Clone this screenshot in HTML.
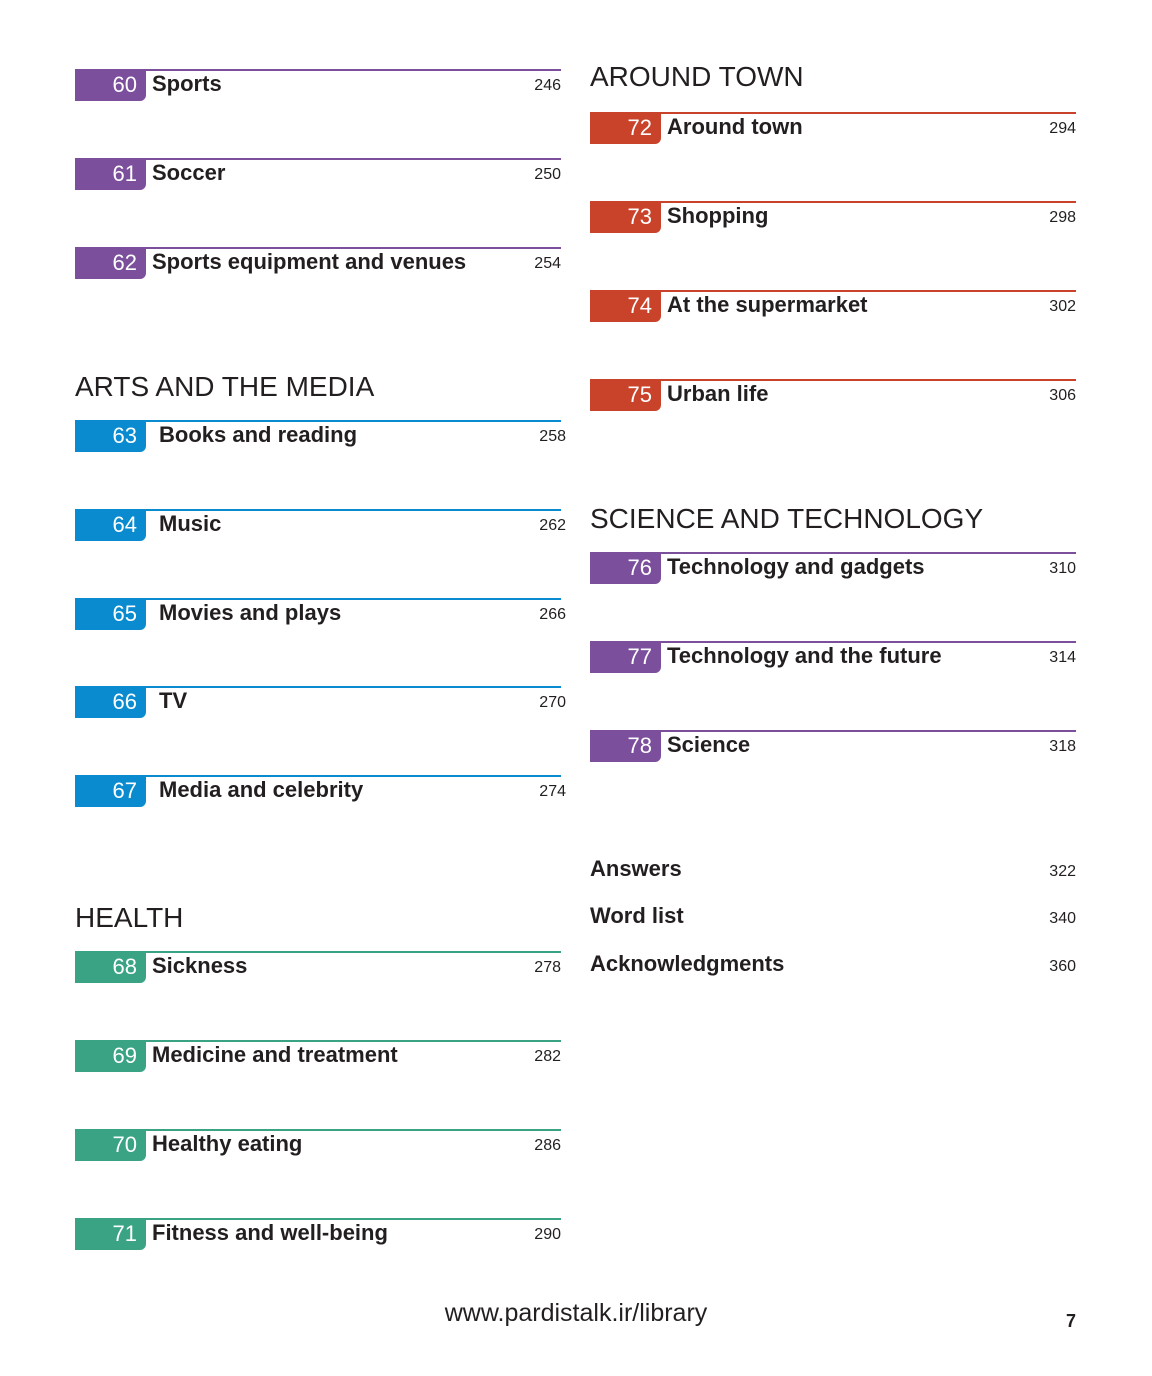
<!DOCTYPE html>
<html><head><meta charset="utf-8"><style>
body{margin:0;width:1152px;height:1376px;background:#fff;position:relative;font-family:"Liberation Sans",sans-serif;color:#231f20;overflow:hidden}
.e{position:absolute;height:32px}
.ln{position:absolute;left:0;top:0;height:2px}
.bd{position:absolute;left:0;top:0;width:71px;height:32px;border-bottom-right-radius:6px;color:#fff;font-size:22px;text-align:right;box-sizing:border-box;padding-right:9px;line-height:32px}
.tt{position:absolute;top:0;font-size:22px;font-weight:bold;line-height:30px;white-space:nowrap}
.pg{position:absolute;top:2px;font-size:16px;line-height:30px}
.h{position:absolute;font-size:28px;line-height:32px;white-space:nowrap}
.x{position:absolute;font-size:22px;font-weight:bold;line-height:30px}
</style></head><body>
<div class="h" style="left:590px;top:61px">AROUND TOWN</div>
<div class="h" style="left:75px;top:371px">ARTS AND THE MEDIA</div>
<div class="h" style="left:590px;top:503px">SCIENCE AND TECHNOLOGY</div>
<div class="h" style="left:75px;top:902px">HEALTH</div>
<div id="entries"></div>
<div class="x" style="left:590px;top:854px">Answers</div>
<div class="pg" style="left:1000px;width:76px;text-align:right;top:857px">322</div>
<div class="x" style="left:590px;top:901px">Word list</div>
<div class="pg" style="left:1000px;width:76px;text-align:right;top:904px">340</div>
<div class="x" style="left:590px;top:949px">Acknowledgments</div>
<div class="pg" style="left:1000px;width:76px;text-align:right;top:952px">360</div>
<div style="position:absolute;left:0;width:1152px;text-align:center;top:1299px;font-size:25px">www.pardistalk.ir/library</div>
<div style="position:absolute;left:1050px;width:26px;text-align:right;top:1311px;font-size:18px;font-weight:bold">7</div>
<script>
const P='#7b4f9c',B='#0a8bd0',G='#3aa384',R='#c9432b';
const nums=[60,61,62,63,64,65,66,67,68,69,70,71,72,73,74,75,76,77,78];
const titles=['Sports','Soccer','Sports equipment and venues','Books and reading','Music','Movies and plays','TV','Media and celebrity','Sickness','Medicine and treatment','Healthy eating','Fitness and well-being','Around town','Shopping','At the supermarket','Urban life','Technology and gadgets','Technology and the future','Science'];
const pages=[246,250,254,258,262,266,270,274,278,282,286,290,294,298,302,306,310,314,318];
const colors=[P,P,P,B,B,B,B,B,G,G,G,G,R,R,R,R,P,P,P];
const tops=[69,158,247,420,509,598,686,775,951,1040,1129,1218,112,201,290,379,552,641,730];
const c=document.getElementById('entries');
nums.forEach((n,i)=>{
  const left=n>=72?590:75;
  const blue=colors[i]===B;
  const e=document.createElement('div');
  e.className='e';e.style.left=left+'px';e.style.top=tops[i]+'px';e.style.width='486px';
  
  
  e.innerHTML=`<div class="ln" style="width:486px;background:${colors[i]}"></div><div class="bd" style="background:${colors[i]}">${n}</div><div class="tt" style="left:${blue?84:77}px">${titles[i]}</div><div class="pg" style="right:${blue?-5:0}px">${pages[i]}</div>`;
  c.appendChild(e);
});
</script>
</body></html>
